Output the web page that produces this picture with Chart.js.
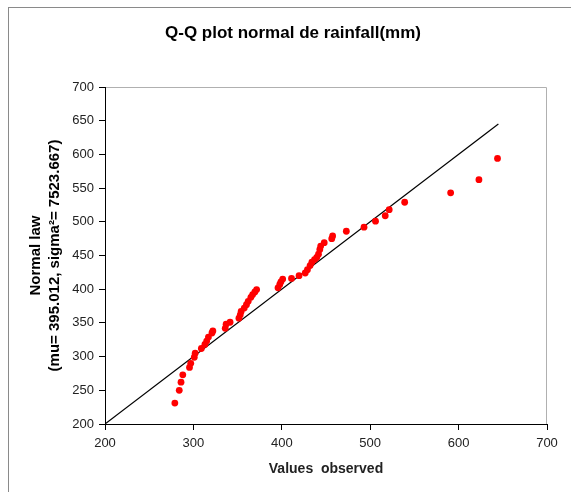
<!DOCTYPE html>
<html>
<head>
<meta charset="utf-8">
<script src="https://cdn.jsdelivr.net/npm/chart.js@4/dist/chart.umd.min.js"></script>
<style>
  html, body { margin: 0; padding: 0; background: #fff; }
  #wrap { width: 571px; height: 492px; }
</style>
</head>
<body>
<div id="wrap"><canvas id="qq" width="571" height="492"></canvas></div>
<script>
// observed rainfall (mm), sorted
const observed = [
  279, 284, 286, 288, 295.6, 297, 301, 302, 309, 313, 315, 317, 321, 322,
  336, 337, 341.5, 351.5, 353, 354, 357.5, 360, 362, 365, 367, 369.5, 371.5,
  395.7, 397.7, 399, 401, 411, 419.5, 426.5, 429, 432, 434, 437, 439.5, 441.5,
  443, 444, 448, 456.5, 457.5, 473, 493, 506, 517, 521.5, 539, 591, 623, 644
];
// matching quantiles of the normal law
const normalQuantiles = [
  231, 250, 262, 273, 284, 290, 299, 305, 312, 318, 323, 329, 335, 338,
  342, 348, 351, 357, 362, 367, 372, 377, 382, 388, 392, 396, 399.5,
  402, 407, 411, 415, 416, 420, 424, 429, 435, 440, 444, 447, 452,
  459, 464, 469, 475, 479, 486, 492, 501, 509, 518, 529, 543, 562.5, 594
];
// reference line y = x
const lineEnds = [200, 645];

const xTicks = [200, 300, 400, 500, 600, 700];
const yTicks = [200, 250, 300, 350, 400, 450, 500, 550, 600, 650, 700];

const points = observed.map((x, i) => ({ x, y: normalQuantiles[i] }));
const refLine = lineEnds.map((v) => ({ x: v, y: v }));

// outer frame + gray top/right edge of the plot area
const framePlugin = {
  id: "frame",
  beforeDraw(chart) {
    const ctx = chart.ctx;
    const a = chart.chartArea;
    ctx.save();
    ctx.strokeStyle = "#8a8a8a";
    ctx.lineWidth = 1;
    ctx.strokeRect(8.5, 7.5, 700, 700);
    ctx.strokeStyle = "#b0b0b0";
    ctx.beginPath();
    ctx.moveTo(a.left, a.top + 0.5);
    ctx.lineTo(a.right - 0.5, a.top + 0.5);
    ctx.lineTo(a.right - 0.5, a.bottom);
    ctx.stroke();
    ctx.restore();
  },
};

new Chart(document.getElementById("qq").getContext("2d"), {
  type: "scatter",
  data: {
    datasets: [
      {
        type: "line",
        data: refLine,
        borderColor: "#000",
        borderWidth: 1.2,
        pointRadius: 0,
        fill: false,
        order: 2,
      },
      {
        data: points,
        backgroundColor: "#ff0000",
        borderWidth: 0,
        pointRadius: 3.4,
        pointHoverRadius: 3.4,
        order: 1,
      },
    ],
  },
  options: {
    responsive: false,
    animation: false,
    events: [],
    layout: { padding: { left: 39, right: 24, top: 0, bottom: 0 } },
    plugins: {
      legend: { display: false },
      tooltip: { enabled: false },
      title: {
        display: true,
        text: "Q-Q plot normal de rainfall(mm)",
        color: "#000",
        font: { family: "Arial, 'Liberation Sans'", size: 17, weight: "bold" },
        padding: { top: 23, bottom: 43.6 },
      },
    },
    scales: {
      x: {
        type: "linear",
        min: 200,
        max: 700,
        afterBuildTicks: (scale) => {
          scale.ticks = xTicks.map((v) => ({ value: v }));
        },
        afterFit: (scale) => {
          scale.height = 68;
        },
        border: { color: "#000", width: 1 },
        grid: { drawOnChartArea: false, drawTicks: true, tickLength: 6, color: "#000" },
        ticks: {
          color: "#222",
          padding: 6,
          maxRotation: 0,
          font: { family: "Arial, 'Liberation Sans'", size: 13 },
        },
        title: {
          display: true,
          text: "Values  observed",
          color: "#222",
          font: { family: "Arial, 'Liberation Sans'", size: 14, weight: "bold" },
          padding: { top: 0, bottom: 14 },
        },
      },
      y: {
        type: "linear",
        min: 200,
        max: 700,
        afterBuildTicks: (scale) => {
          scale.ticks = yTicks.map((v) => ({ value: v }));
        },
        afterFit: (scale) => {
          scale.width = 66;
        },
        border: { color: "#000", width: 1 },
        grid: { drawOnChartArea: false, drawTicks: true, tickLength: 6, color: "#000" },
        ticks: {
          color: "#222",
          padding: 5,
          font: { family: "Arial, 'Liberation Sans'", size: 13 },
        },
        title: {
          display: true,
          text: ["Normal law", "(mu= 395.012, sigma\u00b2= 7523.667)"],
          color: "#000",
          font: { family: "Arial, 'Liberation Sans'", size: 15, weight: "bold", lineHeight: "19px" },
          padding: { top: -12.5, bottom: 0 },
        },
      },
    },
  },
  plugins: [framePlugin],
});
</script>
</body>
</html>
